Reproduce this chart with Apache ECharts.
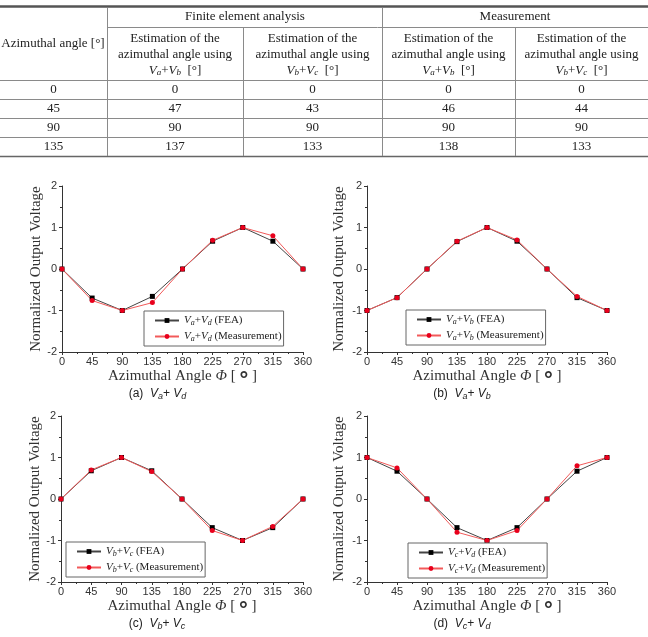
<!DOCTYPE html>
<html lang="en">
<head>
    <meta charset="utf-8">
    <title>Azimuthal angle estimation</title>
    <script src="https://cdn.jsdelivr.net/npm/echarts@6/dist/echarts.min.js"></script>
    <style>
        html, body {margin: 0; padding: 0; background: #fff;}
        #main {width: 648px; height: 637px;}
    </style>
</head>
<body>
<div id="main"></div>
<script>
    // 表格数据
    var tableAngles = [0, 45, 90, 135];
    var feaVaVb = [0, 47, 90, 137];
    var feaVbVc = [0, 43, 90, 133];
    var measVaVb = [0, 46, 90, 138];
    var measVbVc = [0, 44, 90, 133];

    // 曲线数据
    var angles = [0, 45, 90, 135, 180, 225, 270, 315, 360];
    var feaVaVd = [0, -0.70, -1, -0.66, 0, 0.67, 1, 0.67, 0];
    var measVaVd = [0, -0.76, -1, -0.81, 0, 0.69, 1, 0.80, 0];
    var feaVaVb2 = [-1, -0.69, 0, 0.66, 1, 0.67, 0, -0.69, -1];
    var measVaVb2 = [-1, -0.69, 0, 0.67, 1, 0.70, 0, -0.66, -1];
    var feaVbVc2 = [0, 0.68, 1, 0.68, 0, -0.69, -1, -0.69, 0];
    var measVbVc2 = [0, 0.70, 1, 0.66, 0, -0.76, -1, -0.66, 0];
    var feaVcVd = [1, 0.67, 0, -0.69, -1, -0.69, 0, 0.67, 1];
    var measVcVd = [1, 0.75, 0, -0.80, -1, -0.76, 0, 0.80, 1];

    var xTicks = [0, 45, 90, 135, 180, 225, 270, 315, 360];
    var yTicks = [-2, -1, 0, 1, 2];

    var serif = '"Liberation Serif", "DejaVu Serif", serif';
    var sans = '"Liberation Sans", Arial, sans-serif';

    // 每个小图
    var panels = [
        {tag: '(a)', p: 'a', q: 'd', fea: feaVaVd, meas: measVaVd, left: 62, top: 186, width: 241, yGap: 17, legend: [144, 311]},
        {tag: '(b)', p: 'a', q: 'b', fea: feaVaVb2, meas: measVaVb2, left: 367, top: 186, width: 240, yGap: 20, legend: [406, 310]},
        {tag: '(c)', p: 'b', q: 'c', fea: feaVbVc2, meas: measVbVc2, left: 61, top: 416, width: 242, yGap: 17, legend: [66, 542]},
        {tag: '(d)', p: 'c', q: 'd', fea: feaVcVd, meas: measVcVd, left: 367, top: 416, width: 240, yGap: 20, legend: [408, 543]}
    ];

    function pairs(vals) {
        return angles.map(function (a, i) { return [a, vals[i]]; });
    }

    var subRich = {
        v: {fontFamily: serif, fontStyle: 'italic', fontSize: 11, color: '#222'},
        s: {fontFamily: serif, fontStyle: 'italic', fontSize: 8, color: '#222', verticalAlign: 'bottom', padding: [5, 0, 0, 0]},
        t: {fontFamily: serif, fontSize: 11, color: '#222'}
    };

    var grids = [], xAxes = [], yAxes = [], series = [], legends = [], graphics = [];
    var legendText = {};

    panels.forEach(function (pn, k) {
        grids.push({left: pn.left, top: pn.top, width: pn.width, height: 166});
        xAxes.push({
            type: 'value', gridIndex: k, min: 0, max: 360, interval: 45,
            name: 'Azimuthal Angle {i|Φ} [ {o|°} ]', nameLocation: 'middle', nameGap: 8,
            nameTextStyle: {fontFamily: serif, fontSize: 15, color: '#333',
                rich: {i: {fontFamily: serif, fontStyle: 'italic', fontSize: 15, color: '#333'},
                       o: {fontFamily: sans, fontWeight: 'bold', fontSize: 22, color: '#333', padding: [10, 0, 0, 0]}}},
            axisLine: {onZero: false, lineStyle: {color: '#333', width: 1}},
            axisTick: {length: 3, lineStyle: {color: '#333'}},
            minorTick: {show: true, splitNumber: 2, length: 2, lineStyle: {color: '#333'}},
            splitLine: {show: false},
            axisLabel: {fontFamily: sans, fontSize: 11, color: '#333', margin: 4,
                formatter: function (v) { return xTicks.indexOf(v) >= 0 ? String(v) : ''; }}
        });
        yAxes.push({
            type: 'value', gridIndex: k, min: -2, max: 2, interval: 1,
            name: 'Normalized Output Voltage', nameLocation: 'middle', nameGap: pn.yGap,
            nameTextStyle: {fontFamily: serif, fontSize: 15, color: '#333'},
            axisLine: {show: true, onZero: false, lineStyle: {color: '#333', width: 1}},
            axisTick: {show: true, length: 3, lineStyle: {color: '#333'}},
            minorTick: {show: true, splitNumber: 2, length: 2, lineStyle: {color: '#333'}},
            splitLine: {show: false},
            axisLabel: {fontFamily: sans, fontSize: 11, color: '#333', margin: 5,
                formatter: function (v) { return yTicks.indexOf(v) >= 0 ? String(v) : ''; }}
        });

        var base = '{v|V}{s|' + pn.p + '}{t|+}{v|V}{s|' + pn.q + '}';
        var nFea = 'V' + pn.p + '+V' + pn.q + ' (FEA)';
        var nMeas = 'V' + pn.p + '+V' + pn.q + ' (Measurement)';
        legendText[nFea] = base + '{t| (FEA)}';
        legendText[nMeas] = base + '{t| (Measurement)}';

        series.push({
            name: nFea, type: 'line', xAxisIndex: k, yAxisIndex: k,
            data: pairs(pn.fea), symbol: 'rect', symbolSize: 5,
            itemStyle: {color: '#000'}, lineStyle: {color: '#444', width: 1}
        });
        series.push({
            name: nMeas, type: 'line', xAxisIndex: k, yAxisIndex: k,
            data: pairs(pn.meas), symbol: 'circle', symbolSize: 5,
            itemStyle: {color: '#e8001c'}, lineStyle: {color: '#f25a5a', width: 1}
        });

        legends.push({
            data: [nFea, nMeas], orient: 'vertical',
            left: pn.legend[0], top: pn.legend[1],
            itemWidth: 24, itemHeight: 6, itemGap: 4,
            padding: [4, 2, 3, 10],
            borderColor: '#666', borderWidth: 1,
            selectedMode: false,
            formatter: function (name) { return legendText[name]; },
            textStyle: {rich: subRich}
        });

        // 小图标题
        graphics.push({
            type: 'text', x: pn.left + pn.width / 2 - 25, y: pn.top + 208,
            style: {
                text: pn.tag + '  {v|V}{s|' + pn.p + '}{t|+ }{v|V}{s|' + pn.q + '}',
                font: '12px ' + sans, fill: '#222', align: 'center', verticalAlign: 'middle',
                rich: {
                    v: {fontFamily: sans, fontStyle: 'italic', fontSize: 12, color: '#222'},
                    s: {fontFamily: sans, fontStyle: 'italic', fontSize: 9, color: '#222', verticalAlign: 'bottom', padding: [4, 0, 0, 0]},
                    t: {fontFamily: sans, fontSize: 12, color: '#222'}
                }
            }
        });
    });

    // 表格
    var colEdges = [0, 107, 243, 382, 515, 648];
    var rowEdges = [80, 99, 118, 137, 156];
    var lineColor = '#8a8a8a';
    function hline(x1, x2, y, w, c) {
        graphics.push({type: 'line', shape: {x1: x1, y1: y, x2: x2, y2: y}, style: {stroke: c || lineColor, lineWidth: w || 1}});
    }
    function vline(x, y1, y2) {
        graphics.push({type: 'line', shape: {x1: x, y1: y1, x2: x, y2: y2}, style: {stroke: lineColor, lineWidth: 1}});
    }
    function cellText(x, y, txt, rich) {
        graphics.push({type: 'text', x: x, y: y, style: {
            text: txt, font: '13px ' + serif, fill: '#222', align: 'center', verticalAlign: 'middle', rich: rich
        }});
    }
    hline(0, 648, 6.5, 2.5, '#555');
    hline(107, 648, 27.5);
    rowEdges.forEach(function (y, i) { hline(0, 648, y + 0.5, i === rowEdges.length - 1 ? 1.5 : 1, i === rowEdges.length - 1 ? '#666' : lineColor); });
    vline(107.5, 8, 156);
    vline(382.5, 8, 156);
    vline(243.5, 27, 156);
    vline(515.5, 27, 156);

    var tRich = {
        v: {fontFamily: serif, fontStyle: 'italic', fontSize: 13, color: '#222'},
        s: {fontFamily: serif, fontStyle: 'italic', fontSize: 9, color: '#222', verticalAlign: 'bottom', padding: [4, 0, 0, 0]},
        t: {fontFamily: serif, fontSize: 13, color: '#222'}
    };
    cellText(53, 44, 'Azimuthal angle [°]');
    cellText(245, 17, 'Finite element analysis');
    cellText(515, 17, 'Measurement');
    var subs = [['a', 'b'], ['b', 'c'], ['a', 'b'], ['b', 'c']];
    for (var c = 0; c < 4; c++) {
        var cx = (colEdges[c + 1] + colEdges[c + 2]) / 2;
        cellText(cx, 39, 'Estimation of the');
        cellText(cx, 55, 'azimuthal angle using');
        cellText(cx, 71, '{v|V}{s|' + subs[c][0] + '}{t|+}{v|V}{s|' + subs[c][1] + '}{t|  [°]}', tRich);
    }
    var cols = [tableAngles, feaVaVb, feaVbVc, measVaVb, measVbVc];
    for (var r = 0; r < tableAngles.length; r++) {
        for (var j = 0; j < cols.length; j++) {
            cellText((colEdges[j] + colEdges[j + 1]) / 2, (rowEdges[r] + rowEdges[r + 1]) / 2 + 0.5, String(cols[j][r]));
        }
    }

    var myChart = echarts.init(document.getElementById('main'));
    var option = {
        animation: false,
        backgroundColor: '#fff',
        grid: grids,
        xAxis: xAxes,
        yAxis: yAxes,
        legend: legends,
        series: series,
        graphic: graphics
    };
    myChart.setOption(option);
</script>
</body>
</html>
